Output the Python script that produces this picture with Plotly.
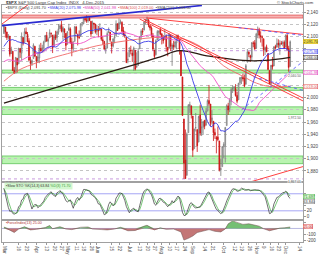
import numpy as np
import pandas as pd
import plotly.graph_objects as go
from plotly.subplots import make_subplots

# ------------------------------------------------------------------ data
holidays = ["2015-04-03", "2015-05-25", "2015-07-03", "2015-09-07", "2015-11-26"]

opens = [
    2105.2, 2115.8, 2107.7, 2098.5, 2100.9, 2072.3, 2076.1, 2044.7, 2041.1, 2064.6, 2055.4, 2080.6, 2072.8, 2098.7, 2090.3, 2108.0, 2103.9, 2093.1, 2059.9, 2055.8, 2064.1, 2084.1,
    2067.6, 2060.0, 2064.9, 2080.8, 2076.9, 2081.3, 2091.5, 2102.0, 2092.3, 2097.8, 2105.0, 2102.6, 2084.1, 2102.8, 2098.3, 2107.2, 2112.8, 2119.3, 2108.4, 2112.5, 2105.5,
    2087.4, 2110.2, 2112.6, 2091.3, 2080.0, 2092.1, 2115.6, 2102.9, 2099.6, 2100.4, 2122.1, 2121.3, 2129.5, 2127.8, 2125.6, 2130.4, 2125.3, 2105.1, 2122.3, 2120.7,
    2108.6, 2110.4, 2110.6, 2112.4, 2095.1, 2092.3, 2079.1, 2081.1, 2106.2, 2107.4, 2091.3, 2084.3, 2097.4, 2101.6, 2121.1, 2112.5, 2123.2, 2123.2, 2110.0, 2102.6, 2098.6, 2061.2,
    2067.0, 2078.0, 2073.0, 2069.5, 2077.7, 2049.7, 2052.7, 2080.0, 2099.7, 2109.0, 2110.6, 2126.8, 2126.9, 2127.6, 2118.2, 2114.2, 2102.2, 2078.2, 2070.8, 2094.7, 2106.8, 2111.6,
    2104.5, 2097.7, 2095.3, 2100.8, 2082.6, 2081.0, 2102.7, 2081.1, 2086.2, 2083.2, 2089.7, 2101.5, 2095.7, 2076.6, 2034.1, 1965.2, 1898.1, 1872.8, 1942.8, 1986.1, 1986.7,
    1970.1, 1916.5, 1950.8, 1947.8, 1927.3, 1971.5, 1941.6, 1951.5, 1963.1, 1955.1, 1978.0, 1995.3, 1989.7, 1960.8, 1961.4, 1943.2, 1934.8, 1935.9, 1929.2, 1881.9, 1887.1,
    1919.7, 1921.8, 1954.3, 1986.6, 1982.3, 1994.0, 2013.7, 2015.7, 2015.0, 2003.7, 1996.5, 2024.4, 2031.7, 2033.1, 2033.5, 2021.9, 2058.2, 2075.1, 2068.8, 2066.5, 2088.4, 2090.0,
    2080.8, 2102.6, 2110.6, 2101.7, 2098.6, 2096.6, 2077.2, 2083.4, 2072.3, 2044.6, 2022.1, 2053.7, 2052.0, 2083.7, 2082.8, 2089.4, 2084.4, 2089.3, 2088.8, 2091.0,
    2082.9, 2101.7, 2080.7, 2051.2,
]
highs = [
    2117.5, 2115.8, 2107.7, 2104.3, 2100.9, 2083.5, 2076.1, 2050.1, 2066.4, 2064.6, 2081.4, 2080.6, 2106.9, 2098.7, 2113.9, 2114.9, 2107.6, 2097.4, 2067.1, 2062.8, 2089.0, 2084.1,
    2067.6, 2072.2, 2087.0, 2089.8, 2086.7, 2093.3, 2102.6, 2107.7, 2098.6, 2111.9, 2107.0, 2102.6, 2103.9, 2109.6, 2110.0, 2120.5, 2120.9, 2125.9, 2117.0, 2113.7, 2105.5,
    2108.4, 2121.0, 2115.2, 2098.4, 2092.9, 2117.7, 2117.7, 2105.1, 2110.2, 2121.5, 2123.9, 2131.8, 2133.0, 2134.7, 2134.3, 2132.2, 2125.3, 2126.2, 2122.3, 2120.7,
    2119.2, 2117.6, 2121.9, 2112.9, 2101.0, 2093.0, 2085.7, 2108.5, 2115.0, 2107.4, 2091.3, 2097.4, 2106.8, 2126.7, 2121.6, 2129.9, 2128.0, 2125.1, 2116.0, 2108.9, 2098.6, 2074.3,
    2082.8, 2085.1, 2078.6, 2083.7, 2077.7, 2074.3, 2081.3, 2100.7, 2112.0, 2114.1, 2124.4, 2128.9, 2132.8, 2128.4, 2118.5, 2116.9, 2106.0, 2078.2, 2095.6, 2110.6, 2110.5, 2114.2,
    2105.7, 2102.5, 2112.7, 2103.3, 2082.6, 2105.4, 2102.7, 2089.1, 2092.9, 2092.5, 2102.9, 2103.5, 2096.2, 2076.6, 2034.1, 1965.2, 1948.0, 1943.1, 1989.6, 1993.5, 1986.7,
    1970.1, 1948.9, 1975.0, 1947.8, 1970.4, 1988.6, 1965.3, 1961.1, 1963.1, 1983.2, 1997.3, 2020.9, 1989.7, 1979.6, 1961.4, 1949.5, 1937.2, 1952.9, 1929.2, 1899.5, 1920.5,
    1927.2, 1951.4, 1989.2, 1991.6, 1999.3, 2016.5, 2020.1, 2018.7, 2022.3, 2009.6, 2024.2, 2033.5, 2034.5, 2039.1, 2038.0, 2055.2, 2079.7, 2075.1, 2070.4, 2090.4, 2092.5, 2094.3,
    2106.2, 2116.5, 2114.6, 2108.8, 2101.9, 2096.6, 2083.7, 2086.9, 2072.3, 2044.6, 2053.2, 2066.7, 2083.6, 2086.7, 2097.1, 2095.6, 2094.1, 2093.0, 2093.3, 2093.8,
    2103.4, 2104.3, 2085.0, 2093.8,
]
lows = [
    2104.5, 2098.3, 2094.5, 2095.2, 2067.3, 2072.2, 2044.2, 2039.7, 2041.1, 2041.2, 2055.4, 2065.1, 2061.2, 2085.6, 2090.3, 2104.4, 2091.5, 2061.1, 2045.5, 2052.0, 2064.1, 2067.0,
    2048.4, 2057.3, 2056.5, 2076.1, 2073.3, 2074.3, 2091.0, 2092.3, 2083.2, 2097.8, 2100.0, 2073.1, 2084.1, 2094.4, 2091.1, 2103.2, 2112.8, 2107.0, 2094.9, 2097.4, 2077.6,
    2087.4, 2110.2, 2088.5, 2067.9, 2075.0, 2092.1, 2104.6, 2085.6, 2096.0, 2100.4, 2116.8, 2120.0, 2124.5, 2122.6, 2122.9, 2126.1, 2099.2, 2105.1, 2112.8, 2104.9,
    2102.5, 2099.1, 2109.6, 2093.2, 2087.0, 2079.1, 2072.1, 2081.1, 2106.2, 2091.3, 2072.5, 2082.1, 2088.9, 2101.6, 2109.5, 2112.5, 2119.9, 2108.6, 2102.0, 2097.7, 2056.6, 2056.3,
    2067.0, 2071.0, 2058.4, 2044.0, 2044.7, 2049.7, 2052.7, 2080.0, 2095.0, 2102.5, 2110.6, 2119.4, 2123.7, 2115.4, 2110.0, 2098.6, 2077.1, 2063.5, 2069.1, 2094.1, 2094.1, 2102.1,
    2087.3, 2088.6, 2095.3, 2075.5, 2067.9, 2081.0, 2076.5, 2052.1, 2078.3, 2080.6, 2079.3, 2094.1, 2070.5, 2035.7, 1970.9, 1867.0, 1867.1, 1872.8, 1942.8, 1975.2, 1966.0,
    1903.1, 1916.5, 1944.7, 1911.2, 1927.3, 1937.9, 1937.2, 1939.2, 1948.3, 1954.3, 1977.9, 1986.7, 1953.5, 1955.8, 1929.2, 1932.6, 1908.9, 1928.7, 1879.2, 1871.9, 1887.1,
    1900.7, 1893.7, 1954.3, 1972.0, 1976.4, 1987.5, 2007.6, 2010.3, 2001.8, 1990.7, 1996.5, 2020.5, 2022.3, 2026.6, 2017.2, 2021.9, 2058.2, 2066.5, 2058.8, 2061.5, 2082.6, 2079.3,
    2080.8, 2097.5, 2097.0, 2090.4, 2083.7, 2068.2, 2069.9, 2074.9, 2045.7, 2022.0, 2019.4, 2045.9, 2052.0, 2078.8, 2082.8, 2081.4, 2070.3, 2086.3, 2084.1, 2080.4,
    2082.9, 2077.1, 2042.4, 2051.2,
]
closes = [
    2117.4, 2107.8, 2098.5, 2101.0, 2071.3, 2079.4, 2044.2, 2040.2, 2066.0, 2053.4, 2081.2, 2074.3, 2099.5, 2089.3, 2108.1, 2104.4, 2091.5, 2061.1, 2056.2, 2061.0, 2086.2, 2067.9,
    2059.7, 2067.0, 2080.6, 2076.3, 2081.9, 2091.2, 2102.1, 2092.4, 2095.8, 2106.6, 2105.0, 2081.2, 2100.4, 2097.3, 2108.0, 2112.9, 2117.7, 2108.9, 2114.8, 2106.9, 2085.5,
    2108.3, 2114.5, 2089.5, 2080.2, 2088.0, 2116.1, 2105.3, 2099.1, 2098.5, 2121.1, 2122.7, 2129.2, 2127.8, 2125.9, 2130.8, 2126.1, 2104.2, 2123.5, 2120.8, 2107.4,
    2111.7, 2109.6, 2114.1, 2095.8, 2092.8, 2079.3, 2080.2, 2105.2, 2108.9, 2094.1, 2084.4, 2096.3, 2100.4, 2121.2, 2110.0, 2122.9, 2124.2, 2108.6, 2102.3, 2101.5, 2057.6, 2063.1,
    2077.4, 2076.8, 2068.8, 2081.3, 2046.7, 2051.3, 2076.6, 2099.6, 2109.0, 2107.4, 2124.3, 2126.6, 2128.3, 2119.2, 2114.2, 2102.2, 2079.7, 2067.6, 2093.3, 2108.6, 2108.6, 2103.8,
    2098.0, 2093.3, 2099.8, 2083.6, 2077.6, 2104.2, 2084.1, 2086.1, 2083.4, 2091.5, 2102.4, 2096.9, 2079.6, 2035.7, 1970.9, 1893.2, 1867.6, 1940.5, 1987.7, 1988.9, 1972.2,
    1913.9, 1948.9, 1951.1, 1921.2, 1969.4, 1942.0, 1952.3, 1961.1, 1953.0, 1978.1, 1995.3, 1990.2, 1958.0, 1967.0, 1942.7, 1938.8, 1932.2, 1931.3, 1881.8, 1884.1, 1920.0,
    1923.8, 1951.4, 1987.1, 1979.9, 1995.8, 2013.4, 2014.9, 2017.5, 2003.7, 1994.2, 2023.9, 2033.1, 2033.7, 2030.8, 2018.9, 2052.5, 2075.2, 2071.2, 2065.9, 2090.4, 2089.4, 2079.4,
    2104.1, 2109.8, 2102.3, 2099.9, 2099.2, 2078.6, 2081.7, 2075.0, 2046.0, 2023.0, 2053.2, 2050.4, 2083.6, 2081.2, 2089.2, 2086.6, 2089.1, 2088.9, 2090.1, 2080.4,
    2102.6, 2079.5, 2049.6, 2091.7,
]
# closes before the visible window (Dec 2014 - Feb 2015), used for the moving averages
prior_closes = [
    2053.44, 2066.55, 2074.33, 2071.92, 2075.37, 2060.31, 2059.82, 2026.14, 2035.33, 2002.33, 1989.63,
    1972.74, 2012.89, 2061.23, 2070.65, 2078.54, 2082.17, 2081.88, 2088.77, 2090.57, 2080.35, 2058.90,
    2058.20, 2020.58, 2002.61, 2025.90, 2062.14, 2044.81, 2028.26, 2023.03, 2011.27, 1992.67,
    2019.42, 2022.55, 2032.12, 2063.15, 2051.82, 2057.09, 2029.55, 2002.16, 2021.25, 1994.99,
    2020.85, 2050.03, 2041.51, 2062.52, 2055.47, 2046.74, 2068.59, 2068.53, 2088.48, 2096.99,
    2100.34, 2099.68, 2097.45, 2110.30, 2109.66, 2115.48, 2113.86, 2110.74, 2104.50,
]

# slower moving averages
sma100_dates = ["2015-03-02", "2015-03-16", "2015-04-01", "2015-04-15", "2015-05-01", "2015-06-01", "2015-07-01",
                "2015-08-03", "2015-08-24", "2015-09-15", "2015-10-01", "2015-10-20", "2015-11-02", "2015-11-16", "2015-12-04"]
sma100_vals = [2027, 2045, 2057, 2064, 2072, 2085, 2094, 2099, 2096, 2078, 2052, 2035, 2024, 2018, 2019]
sma200_dates = ["2015-03-02", "2015-04-14", "2015-05-27", "2015-07-10", "2015-07-31", "2015-08-19",
                "2015-09-17", "2015-10-20", "2015-11-10", "2015-12-04"]
sma200_vals = [1991, 2013, 2034, 2056, 2067, 2077, 2068, 2061, 2061, 2066]

# support / resistance zones
green_zones = [(2040.5, 2045.2), (2012.0, 2016.8), (1972.5, 1985.0), (1892.0, 1904.6)]
red_zone = (2130.5, 2135.3)
aug_low = 1867.01
mid_level = 2077.0

# trend lines (trading-day position, price)
tl_blue_x, tl_blue_y = [-2.0, 134.2], [2117.9, 2151.1]
tl_red_steep_x, tl_red_steep_y = [-2.0, 20.1], [2119.5, 2159.0]
tl_red_down1_x, tl_red_down1_y = [92.0, 202.7], [2128.9, 1994.7]
tl_red_down2_x, tl_red_down2_y = [94.6, 202.7], [2128.9, 1999.4]
tl_red_top_x, tl_red_top_y = [96.6, 202.7], [2130.5, 2103.7]
tl_red_low_x, tl_red_low_y = [162.4, 202.7], [1858.8, 1887.2]
tl_bdot_top_x, tl_bdot_top_y = [159.0, 202.7], [2114.7, 2102.1]
tl_bdot_up_x, tl_bdot_up_y = [161.1, 202.7], [1980.4, 2059.4]
tl_bdot_dn_x, tl_bdot_dn_y = [169.1, 202.7], [2034.2, 2012.0]

# lower indicator (force index)
force_dates = ["2015-03-02", "2015-03-06", "2015-03-11", "2015-03-16", "2015-03-20", "2015-03-26", "2015-04-01",
               "2015-04-10", "2015-04-15", "2015-04-17", "2015-04-24", "2015-04-30", "2015-05-06", "2015-05-14",
               "2015-05-21", "2015-05-27", "2015-06-04", "2015-06-10", "2015-06-17", "2015-06-23", "2015-06-30",
               "2015-07-08", "2015-07-16", "2015-07-20", "2015-07-27", "2015-07-31", "2015-08-06", "2015-08-13",
               "2015-08-20", "2015-08-24", "2015-08-27", "2015-09-01", "2015-09-04", "2015-09-11", "2015-09-17",
               "2015-09-23", "2015-09-29", "2015-10-02", "2015-10-06", "2015-10-09", "2015-10-14", "2015-10-20",
               "2015-10-26", "2015-10-30", "2015-11-04", "2015-11-09", "2015-11-13", "2015-11-18", "2015-11-24",
               "2015-11-30", "2015-12-04"]
force_vals = [25, -30, -70, -10, 30, -25, -15, 15, 50, -5, 30, -10, -20, 20, 25, -10, -15, -25, -10, 20, -40,
              -35, 40, 55, -25, 10, -15, -10, -60, -200, -170, -130, -70, -40, -20, -50, -60, -10, 80, 130, 100,
              70, 80, 50, 40, -5, -40, -20, 5, 10, 25]

tick_dates = ["2015-03-02", "2015-03-16", "2015-03-23", "2015-04-01", "2015-04-13", "2015-04-20", "2015-04-27",
              "2015-05-01", "2015-05-11", "2015-05-18", "2015-05-26", "2015-06-01", "2015-06-15", "2015-06-22",
              "2015-07-01", "2015-07-13", "2015-07-20", "2015-07-27", "2015-08-03", "2015-08-10", "2015-08-17",
              "2015-08-24", "2015-09-01", "2015-09-14", "2015-09-21", "2015-10-01", "2015-10-12", "2015-10-19",
              "2015-10-26", "2015-11-02", "2015-11-09", "2015-11-16", "2015-11-23", "2015-12-01", "2015-12-14"]
tick_labels = ["Mar", "16", "23", "Apr", "13", "20", "27", "May", "11", "18", "26", "Jun", "15", "22",
               "Jul", "13", "20", "27", "Aug", "10", "17", "24", "Sep", "14", "21", "Oct", "12", "19",
               "26", "Nov", "9", "16", "23", "Dec", "14"]
price_ticks = [1880, 1900, 1920, 1940, 1960, 1980, 2000, 2020, 2040, 2060, 2080, 2100, 2120, 2140]
sto_ticks = [0, 20, 40, 60, 80]
force_ticks = [-200, -100, 0, 100]

# ------------------------------------------------------------------ derived
days = [d.strftime("%Y-%m-%d") for d in pd.bdate_range("2015-03-02", "2015-12-31")
        if d.strftime("%Y-%m-%d") not in holidays]
pos = {d: i for i, d in enumerate(days)}
n = len(closes)
xi = np.arange(n)
o, h, l, c = map(np.array, (opens, highs, lows, closes))

allc = pd.Series(prior_closes + closes)
k0 = len(prior_closes)
sma20 = allc.rolling(20).mean().iloc[k0:].to_numpy()
sma50 = allc.rolling(50).mean().iloc[k0:].to_numpy()

prev_c = np.array([prior_closes[-1]] + closes[:-1])
up_prev = c >= prev_c

hh = pd.Series(highs).rolling(14, min_periods=1).max()
ll = pd.Series(lows).rolling(14, min_periods=1).min()
fastk = 100 * (pd.Series(closes) - ll) / (hh - ll)
slowk = fastk.rolling(3, min_periods=1).mean()
slowd = slowk.rolling(3, min_periods=1).mean()

fx = [pos[d] for d in force_dates]
fv = np.array(force_vals, dtype=float)

# ------------------------------------------------------------------ figure
fig = make_subplots(rows=3, cols=1, shared_xaxes=True, vertical_spacing=0.01)

FONT = "Liberation Sans, Arial, sans-serif"

def candles(mask, color):
    return go.Candlestick(
        x=xi[mask], open=o[mask], high=h[mask], low=l[mask], close=c[mask],
        increasing=dict(line=dict(color=color, width=0.8), fillcolor="white"),
        decreasing=dict(line=dict(color=color, width=0.8), fillcolor=color),
        whiskerwidth=0, showlegend=False, hoverinfo="skip")

for lo_, hi_ in green_zones:
    fig.add_shape(type="rect", xref="x domain", x0=0, x1=1, yref="y", y0=lo_, y1=hi_,
                  fillcolor="#b9f4b0", line=dict(color="#5fc45a", width=0.8), layer="below")
fig.add_shape(type="rect", xref="x domain", x0=0, x1=1, yref="y", y0=red_zone[0], y1=red_zone[1],
              fillcolor="#f7b4b4", line=dict(color="#e25555", width=0.8), layer="below")
for lvl in (aug_low, mid_level):
    fig.add_shape(type="line", xref="x domain", x0=0, x1=1, yref="y", y0=lvl, y1=lvl,
                  line=dict(color="#b070d0", width=0.7, dash="dot"), layer="below")

fig.add_trace(go.Scatter(x=[pos[d] for d in sma200_dates], y=sma200_vals, mode="lines", line_shape="spline",
                         line=dict(color="#2b1b14", width=1.3), hoverinfo="skip"), row=1, col=1)
fig.add_trace(go.Scatter(x=[pos[d] for d in sma100_dates], y=sma100_vals, mode="lines", line_shape="spline",
                         line=dict(color="#f06a6a", width=0.9), hoverinfo="skip"), row=1, col=1)
fig.add_trace(go.Scatter(x=xi, y=sma50, mode="lines", line=dict(color="#f050c8", width=0.9),
                         hoverinfo="skip"), row=1, col=1)
fig.add_trace(go.Scatter(x=xi, y=sma20, mode="lines", line=dict(color="#3a3ae8", width=0.9),
                         hoverinfo="skip"), row=1, col=1)

fig.add_trace(candles(up_prev, "#7a7a7a"), row=1, col=1)
fig.add_trace(candles(~up_prev, "#cc1111"), row=1, col=1)

for xs, ys, col, w, dash in [
    (tl_blue_x, tl_blue_y, "#2a2ad0", 1.6, "solid"),
    (tl_red_steep_x, tl_red_steep_y, "#ff2a2a", 0.9, "solid"),
    (tl_red_down1_x, tl_red_down1_y, "#ff2a2a", 0.9, "solid"),
    (tl_red_down2_x, tl_red_down2_y, "#ff2a2a", 0.9, "solid"),
    (tl_red_top_x, tl_red_top_y, "#ff2a2a", 0.9, "solid"),
    (tl_red_low_x, tl_red_low_y, "#ff2a2a", 0.9, "solid"),
    (tl_bdot_top_x, tl_bdot_top_y, "#5a5aff", 0.9, "dot"),
    (tl_bdot_up_x, tl_bdot_up_y, "#5a5aff", 0.9, "dot"),
    (tl_bdot_dn_x, tl_bdot_dn_y, "#5a5aff", 0.9, "dot"),
]:
    fig.add_trace(go.Scatter(x=xs, y=ys, mode="lines", line=dict(color=col, width=w, dash=dash),
                             hoverinfo="skip"), row=1, col=1)

for lvl in (20, 80):
    fig.add_shape(type="line", xref="x2 domain", x0=0, x1=1, yref="y2", y0=lvl, y1=lvl,
                  line=dict(color="#8f8ff2", width=0.8), layer="below")
fig.add_trace(go.Scatter(x=xi, y=slowd, mode="lines", line=dict(color="#55b955", width=0.8),
                         hoverinfo="skip"), row=2, col=1)
fig.add_trace(go.Scatter(x=xi, y=slowk, mode="lines", line=dict(color="#333333", width=0.7),
                         hoverinfo="skip"), row=2, col=1)

fig.add_trace(go.Scatter(x=fx, y=np.clip(fv, 0, None), mode="lines", line=dict(width=0),
                         fill="tozeroy", fillcolor="rgba(70,170,70,0.75)", hoverinfo="skip"), row=3, col=1)
fig.add_trace(go.Scatter(x=fx, y=np.clip(fv, None, 0), mode="lines", line=dict(width=0),
                         fill="tozeroy", fillcolor="rgba(170,60,60,0.7)", hoverinfo="skip"), row=3, col=1)
fig.add_trace(go.Scatter(x=fx, y=fv, mode="lines", line=dict(color="#6a4a4a", width=0.5),
                         hoverinfo="skip"), row=3, col=1)
fig.add_shape(type="line", xref="x3 domain", x0=0, x1=1, yref="y3", y0=0, y1=0,
              line=dict(color="#8888cc", width=0.6), layer="below")

# ------------------------------------------------------------------ right-hand value boxes
def fmt(v):
    return f"{v:,.2f}"

main_range = [1863.5, 2151.8]
sto_range = [-8, 118]
force_range = [-233, 133]
main_h, sto_h, force_h = 182.0, 37.0, 22.0
main_ppu = main_h / (main_range[1] - main_range[0])
sto_ppu = sto_h / (sto_range[1] - sto_range[0])
force_ppu = force_h / (force_range[1] - force_range[0])

def spread(vals, min_units):
    # keep label centres at least min_units apart (order preserved by value)
    order = sorted(range(len(vals)), key=lambda i: -vals[i])
    out = list(vals)
    for a, b in zip(order, order[1:]):
        if out[a] - out[b] < min_units:
            out[b] = out[a] - min_units
    return out

main_boxes = [
    (closes[-1], fmt(closes[-1]), "#ffe84a", "#222", "#c8a800"),
    (sma20[-1], fmt(sma20[-1]), "white", "#3a3ae8", "#3a3ae8"),
    (sma200_vals[-1], fmt(sma200_vals[-1]), "white", "#2b1b14", "#2b1b14"),
    (sma50[-1], fmt(sma50[-1]), "white", "#e040b8", "#e040b8"),
    (sma100_vals[-1], fmt(sma100_vals[-1]), "white", "#e05050", "#e05050"),
]
sto_boxes = [
    (slowd.iloc[-1], f"{slowd.iloc[-1]:.3f}", "#d9f7d4", "#2a8a2a", "#55b955"),
    (slowk.iloc[-1], f"{slowk.iloc[-1]:.3f}", "white", "#333", "#777"),
]
force_boxes = [(fv[-1], f"{fv[-1]:.2f}", "#fde0e0", "#c02020", "#e05050")]

def place(boxes, yref, ppu, ticks):
    ys = spread([b[0] for b in boxes], 5.2 / ppu)
    for yv, (_, text, bg, fg, border) in zip(ys, boxes):
        fig.add_annotation(xref="paper", x=1.0, xanchor="left", yref=yref, y=yv, yanchor="middle", text=text,
                           showarrow=False, font=dict(family=FONT, size=3.7, color=fg), bgcolor=bg,
                           bordercolor=border, borderwidth=0.5, borderpad=0)
    labels = []
    for t in ticks:
        hidden = any(abs(t - yv) * ppu < 5.0 for yv in ys)
        labels.append("" if hidden else f"{t:,}")
    return labels

main_labels = place(main_boxes, "y", main_ppu, price_ticks)
sto_labels = place(sto_boxes, "y2", sto_ppu, sto_ticks)
force_labels = place(force_boxes, "y3", force_ppu, force_ticks)

# ------------------------------------------------------------------ layout
xr = [-1.3, 202.7]
axis_common = dict(showline=True, mirror=True, linecolor="#a0a0a0", linewidth=0.8, zeroline=False)
tickfont = dict(size=4.5, color="#444444", family=FONT)

fig.update_layout(
    width=320, height=256, margin=dict(l=1, r=15, t=5, b=6),
    paper_bgcolor="white", plot_bgcolor="white", showlegend=False,
    font=dict(family=FONT, size=4.5, color="#444444"),
    yaxis=dict(domain=[0.2571, 1.0], range=main_range, side="right", tickvals=price_ticks, ticktext=main_labels,
               showgrid=True, gridcolor="#c4c4c4", griddash="dot", gridwidth=0.6,
               ticks="outside", ticklen=2, tickcolor="#999", tickfont=tickfont, **axis_common),
    yaxis2=dict(domain=[0.098, 0.249], range=sto_range, side="right", tickvals=sto_ticks, ticktext=sto_labels,
                showgrid=False, ticks="outside", ticklen=2, tickcolor="#999", tickfont=tickfont, **axis_common),
    yaxis3=dict(domain=[0.0, 0.0898], range=force_range, side="right", tickvals=force_ticks, ticktext=force_labels,
                showgrid=False, ticks="outside", ticklen=2, tickcolor="#999", tickfont=tickfont, **axis_common),
)
for ax in ("xaxis", "xaxis2", "xaxis3"):
    fig.layout[ax].update(range=xr, showgrid=False, rangeslider=dict(visible=False), **axis_common)
fig.update_layout(
    xaxis=dict(showticklabels=False), xaxis2=dict(showticklabels=False),
    xaxis3=dict(tickvals=[pos[d] for d in tick_dates], ticktext=tick_labels, ticks="outside", ticklen=2,
                tickcolor="#999", tickfont=tickfont, ticklabelposition="outside right"),
)

# ------------------------------------------------------------------ texts
ann = dict(showarrow=False, xref="paper", yref="paper", font=dict(family=FONT, size=4.2, color="#333"))
fig.add_annotation(x=0.0066, y=1.0102, xanchor="left", yanchor="middle",
                   text="<b>$SPX</b> S&P 500 Large Cap Index  INDX   4-Dec-2015", **ann)
fig.add_annotation(x=1.043, y=1.0102, xanchor="right", yanchor="middle",
                   text="© StockCharts.com", **ann)
hdr = (f"<span style='color:#444'>▪$SPX (Daily) {fmt(closes[-1])}</span>  "
       f"<span style='color:#3a3ae8'>▪SMA(20) {fmt(sma20[-1])}</span>  "
       f"<span style='color:#e040b8'>▪SMA(50) {fmt(sma50[-1])}</span>  "
       f"<span style='color:#e05050'>▪SMA(100) {fmt(sma100_vals[-1])}</span>  "
       f"<span style='color:#444'>▪SMA(200) {fmt(sma200_vals[-1])}</span>")
fig.add_annotation(x=0.0066, y=0.9898, xanchor="left", yanchor="middle", text=hdr,
                   showarrow=False, xref="paper", yref="paper", font=dict(family=FONT, size=3.9, color="#444"))
fig.add_annotation(x=0.0066, y=0.251, xanchor="left", yanchor="middle", text="© StockCharts.com",
                   showarrow=False, xref="paper", yref="paper", font=dict(family=FONT, size=3.3, color="#666"))
fig.add_annotation(x=0.0066, y=0.2347, xanchor="left", yanchor="middle",
                   text=f"▪Slow STO %K(14,3) {slowk.iloc[-1]:.2f} <span style='color:#3a9a3a'>%D(3) {slowd.iloc[-1]:.2f}</span>",
                   showarrow=False, xref="paper", yref="paper", font=dict(family=FONT, size=3.6, color="#333"),
                   bgcolor="rgba(200,245,195,0.8)")
fig.add_annotation(x=0.0066, y=0.0816, xanchor="left", yanchor="middle",
                   text=f"▪ForceIndex(13) {fv[-1]:.2f}",
                   showarrow=False, xref="paper", yref="paper", font=dict(family=FONT, size=3.6, color="#b03030"))

for yv in (green_zones[0][0], green_zones[2][0], aug_low):
    fig.add_annotation(xref="paper", x=0.997, xanchor="right", yref="y", y=yv, yanchor="top", text=fmt(yv),
                       showarrow=False, font=dict(family=FONT, size=3.3, color="#555"),
                       bgcolor="rgba(255,255,255,0.7)", borderpad=0)

fig.write_html("out.html")
